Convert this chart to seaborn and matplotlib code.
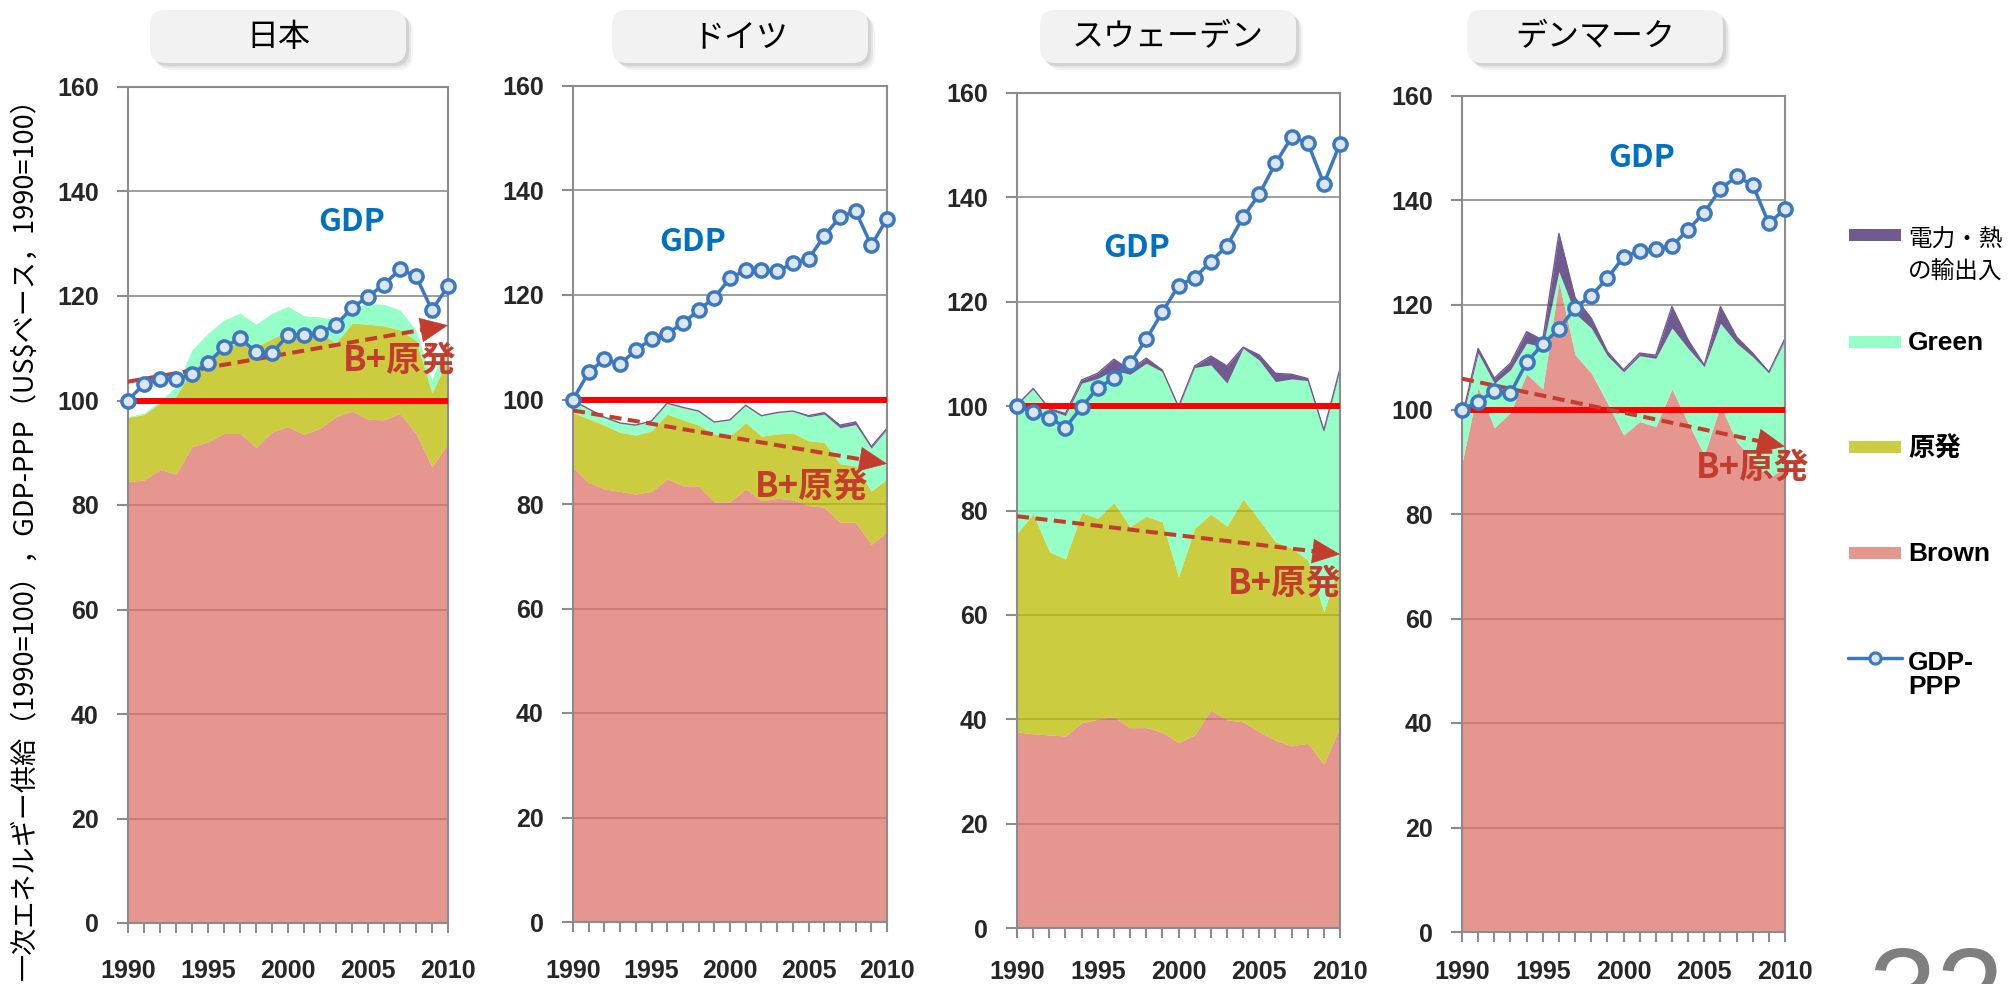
import seaborn as sns
import matplotlib.pyplot as plt
from matplotlib.patches import FancyBboxPatch, Rectangle
from matplotlib.lines import Line2D
from matplotlib.ticker import MultipleLocator

# years on the x axis
years = list(range(1990, 2011))
countries = ["日本", "ドイツ", "スウェーデン", "デンマーク"]

# GDP-PPP index (1990=100)
jp_gdp = [100, 103.2, 104.1, 104.1, 105.0, 107.2, 110.2, 111.9, 109.3, 109.1, 112.5,
          112.5, 112.9, 114.5, 117.7, 119.9, 122.2, 125.1, 123.8, 117.3, 121.9]
de_gdp = [100, 105.2, 107.7, 106.7, 109.5, 111.5, 112.6, 114.6, 117.1, 119.5, 123.2,
          124.8, 124.8, 124.5, 126.1, 126.9, 131.3, 134.9, 136.1, 129.5, 134.6]
se_gdp = [100, 98.9, 97.8, 95.9, 99.8, 103.5, 105.3, 108.2, 112.8, 118.0, 123.1,
          124.6, 127.7, 130.7, 136.2, 140.6, 146.5, 151.5, 150.5, 142.6, 150.3]
dk_gdp = [100, 101.5, 103.5, 103.1, 109.0, 112.5, 115.4, 119.4, 121.8, 125.1, 129.2,
          130.4, 130.7, 131.3, 134.4, 137.7, 142.2, 144.6, 143.0, 135.6, 138.4]

# primary energy supply, cumulative stack tops: Brown, +原発, +Green, +電力・熱の輸出入
jp_brown = [84.5, 84.8, 86.8, 85.9, 91.2, 92.1, 93.7, 93.7, 91.0, 94.0, 95.0,
            93.5, 94.7, 96.9, 98.0, 96.4, 96.3, 97.5, 93.7, 87.3, 91.8]
jp_nuclear = [96.8, 97.3, 99.5, 100.8, 106.0, 108.0, 110.0, 111.3, 110.3, 111.8, 113.4,
              112.6, 112.9, 111.0, 114.8, 114.6, 114.3, 113.5, 111.5, 101.5, 108.0]
jp_green = [96.9, 97.6, 99.9, 102.6, 109.7, 112.9, 115.4, 116.7, 114.6, 116.7, 118.0,
            116.2, 116.0, 115.4, 117.6, 118.5, 118.4, 117.3, 113.5, 103.9, 112.4]
jp_trade = [96.9, 97.6, 99.9, 102.6, 109.7, 112.9, 115.4, 116.7, 114.6, 116.7, 118.0,
            116.2, 116.0, 115.4, 117.6, 118.5, 118.4, 117.3, 113.5, 103.9, 112.4]

de_brown = [87.0, 84.1, 82.9, 82.4, 81.9, 82.4, 84.8, 83.5, 83.4, 80.4, 80.4,
            82.9, 80.6, 81.1, 80.8, 79.7, 79.4, 76.5, 76.5, 72.3, 74.6]
de_nuclear = [97.5, 96.3, 95.1, 93.7, 93.2, 94.0, 97.2, 96.1, 95.1, 93.4, 93.0,
              95.6, 93.0, 93.4, 93.6, 92.1, 91.8, 87.7, 87.3, 82.5, 84.8]
de_green = [99.8, 98.2, 96.6, 95.5, 95.1, 95.9, 99.3, 98.5, 97.8, 95.7, 96.1,
            98.9, 96.9, 97.5, 97.8, 96.7, 97.2, 94.6, 95.2, 90.7, 94.3]
de_trade = [99.8, 98.2, 96.6, 95.5, 95.1, 95.9, 99.3, 98.5, 97.8, 95.7, 96.1,
            98.9, 96.9, 97.5, 97.8, 96.9, 97.5, 95.1, 95.7, 91.0, 94.5]

se_brown = [37.6, 37.2, 37.0, 36.8, 39.3, 40.0, 40.5, 38.4, 38.4, 37.5, 35.5,
            37.0, 41.8, 39.9, 39.5, 37.6, 36.0, 34.9, 35.4, 31.4, 38.6]
se_nuclear = [75.6, 79.4, 72.1, 70.7, 79.6, 78.5, 81.5, 76.9, 78.9, 77.8, 67.3,
              76.6, 79.3, 77.0, 82.2, 78.2, 74.0, 72.8, 70.5, 60.6, 70.2]
se_green = [100.2, 103.3, 99.3, 98.2, 104.4, 105.3, 106.9, 106.1, 108.2, 106.6, 99.7,
            107.4, 107.9, 104.4, 111.1, 108.8, 104.7, 105.2, 104.9, 95.2, 107.0]
se_trade = [100.2, 103.4, 99.5, 98.6, 105.0, 106.3, 109.0, 106.9, 109.2, 106.9, 99.9,
            107.7, 109.6, 107.7, 111.3, 109.8, 106.3, 106.1, 105.3, 95.4, 107.2]

dk_brown = [89.7, 104.2, 96.5, 99.4, 106.8, 103.9, 124.3, 110.5, 107.0, 101.2, 95.1,
            97.7, 96.7, 103.9, 97.4, 91.3, 100.8, 93.9, 90.3, 86.8, 89.0]
dk_nuclear = [89.7, 104.2, 96.5, 99.4, 106.8, 103.9, 124.3, 110.5, 107.0, 101.2, 95.1,
              97.7, 96.7, 103.9, 97.4, 91.3, 100.8, 93.9, 90.3, 86.8, 89.0]
dk_green = [98.0, 110.8, 105.0, 107.6, 112.7, 112.0, 126.4, 118.4, 115.6, 110.3, 107.2,
            110.3, 109.8, 115.6, 111.7, 108.2, 116.5, 112.7, 110.1, 107.0, 113.3]
dk_trade = [98.5, 111.7, 106.0, 108.9, 114.9, 113.3, 133.7, 121.4, 117.5, 111.1, 107.6,
            110.8, 110.4, 119.7, 113.3, 108.5, 119.7, 113.9, 110.8, 107.2, 113.6]

# "B+原発" trend arrows: value at 1990 and at 2010
arrow_start = [103.6, 97.9, 78.9, 105.9]
arrow_end = [114.4, 87.7, 71.6, 92.9]
# label positions (year, value)
trend_label_pos = [(2007.0, 107.8), (2005.2, 83.4), (2006.6, 66.1), (2008.0, 89.0)]
gdp_label_pos = [(2004.0, 134.2), (1997.6, 130.1), (1997.4, 130.3), (2001.1, 148.1)]

# panel placement in pixels (left, right, top, bottom) on the 2012x984 canvas
W, H = 2012, 984
panel_px = [(128, 448, 87, 923), (573, 887, 86, 922), (1017, 1340, 93, 928), (1462, 1785, 96, 932)]
xlabel_pad = [19, 20, 16, 13]
title_cx = [278, 740, 1168, 1595]

data = [
    (jp_gdp, jp_brown, jp_nuclear, jp_green, jp_trade),
    (de_gdp, de_brown, de_nuclear, de_green, de_trade),
    (se_gdp, se_brown, se_nuclear, se_green, se_trade),
    (dk_gdp, dk_brown, dk_nuclear, dk_green, dk_trade),
]

# displayed colours
c_brown, c_nuc, c_green, c_trade = "#E4968F", "#CCCD40", "#96FFC8", "#715A8F"
# fill colours used with alpha 0.75 so the grid shows through like the original
f_brown, f_nuc, f_green, f_trade = "#DB736A", "#BBBC00", "#73FFB6", "#42236A"
c_gdp = "#3C78BE"
c_trend = "#C43C2E"
grid_c = "#8C8C8C"

sns.set_theme(style="white")
plt.rcParams["font.family"] = ["Liberation Sans", "Noto Sans CJK JP", "DejaVu Sans"]
plt.rcParams["font.weight"] = "bold"
jp_font = ["Noto Sans CJK JP", "DejaVu Sans"]

fig = plt.figure(figsize=(W / 100, H / 100), dpi=100)

for i, (gdp, brown, nuc, green, trade) in enumerate(data):
    l, r, t, b = panel_px[i]
    ax = fig.add_axes([l / W, 1 - b / H, (r - l) / W, (b - t) / H])
    ax.set_xlim(1990, 2010)
    ax.set_ylim(0, 160)

    ax.fill_between(years, 0, brown, color=f_brown, alpha=0.75, lw=0, zorder=1)
    ax.fill_between(years, brown, nuc, color=f_nuc, alpha=0.75, lw=0, zorder=1)
    ax.fill_between(years, nuc, green, color=f_green, alpha=0.75, lw=0, zorder=1)
    ax.fill_between(years, green, trade, color=f_trade, alpha=0.75, lw=0, zorder=1)
    if i > 0:
        ax.plot(years, trade, color=c_trade, lw=1.0, zorder=1.5)

    ax.axhline(100, color="#FF0000", lw=4.3, zorder=4)

    # trend arrow
    y0, y1 = arrow_start[i], arrow_end[i]
    xb = 2008.4
    yb = y0 + (y1 - y0) * (xb - 1990) / 20
    ax.plot([1990, xb], [y0, yb], color=c_trend, lw=2.9, ls=(0, (3, 1.6)), zorder=4.5)
    ax.annotate("", xy=(2010, y1), xytext=(xb, yb),
                arrowprops=dict(arrowstyle="-|>,head_length=1.9,head_width=0.85",
                                mutation_scale=10, color=c_trend, lw=0.5,
                                shrinkA=0, shrinkB=0),
                annotation_clip=False, zorder=4.5)
    tx, ty = trend_label_pos[i]
    ax.text(tx, ty, "B+原発", color=c_trend, fontsize=25, fontweight="bold",
            family=jp_font, ha="center", va="center", zorder=6)

    sns.lineplot(x=years, y=gdp, ax=ax, color=c_gdp, lw=2.5, marker="o", ms=9.5,
                 markerfacecolor="#DCE6F2", markeredgecolor=c_gdp, markeredgewidth=2.5,
                 zorder=5, clip_on=False)
    gx, gy = gdp_label_pos[i]
    ax.text(gx, gy, "GDP", color="#0070C0", fontsize=23, fontweight="bold",
            family=jp_font, ha="center", va="center")

    ax.set_yticks(range(0, 161, 20))
    ax.set_xticks([1990, 1995, 2000, 2005, 2010])
    ax.xaxis.set_minor_locator(MultipleLocator(1))
    ax.yaxis.grid(True, color=grid_c, lw=1.2)
    ax.set_axisbelow(True)
    ax.tick_params(axis="y", left=True, length=8, width=1.5, color=grid_c, pad=13, labelsize=18)
    ax.tick_params(axis="x", which="both", bottom=True, length=7, width=1.5, color=grid_c,
                   direction="out")
    ax.tick_params(axis="x", which="major", pad=xlabel_pad[i], labelsize=18)
    for s in ax.spines.values():
        s.set_color(grid_c)
        s.set_linewidth(1.5)
        s.set_visible(True)
    ax.set_xlabel("")
    ax.set_ylabel("")

# overlay in pixel coordinates for titles, legend, page number
ov = fig.add_axes([0, 0, 1, 1], zorder=-1)
ov.set_xlim(0, W)
ov.set_ylim(H, 0)
ov.axis("off")

for cx, name in zip(title_cx, countries):
    for d, a in [(7, 0.08), (5, 0.12), (3, 0.18)]:
        ov.add_patch(FancyBboxPatch((cx - 128 + d, 10 + d), 256, 53,
                                    boxstyle="round,pad=0,rounding_size=15",
                                    fc="#7F7F7F", ec="none", alpha=a))
    ov.add_patch(FancyBboxPatch((cx - 128, 10), 256, 53,
                                boxstyle="round,pad=0,rounding_size=15",
                                fc="#F2F2F2", ec="none"))
    ov.text(cx, 37, name, fontsize=23, fontweight="normal", family=jp_font,
            ha="center", va="center", color="black")

fig.text(25 / W, 1 - 532 / H, "一次エネルギー供給（1990=100），GDP-PPP（US$ベース，1990=100）",
         rotation=90, fontsize=19.5, fontweight="normal", family=jp_font,
         ha="center", va="center", color="black")

# legend
legend_items = [("電力・熱\nの輸出入", c_trade, 235, 256, "normal", 17),
                ("Green", c_green, 342, 343, "bold", 19),
                ("原発", c_nuc, 447, 449, "bold", 19),
                ("Brown", c_brown, 553, 554, "bold", 19)]
for label, col, py, ty, wt, fs in legend_items:
    ov.add_patch(Rectangle((1849, py - 6), 52, 12, fc=col, ec="none"))
    ov.text(1908, ty, label, fontsize=fs, fontweight=wt, family=["Liberation Sans"] + jp_font,
            ha="left", va="center", linespacing=1.5, color="black")
ov.add_line(Line2D([1848, 1902], [658, 658], color=c_gdp, lw=2.5))
ov.add_line(Line2D([1875], [658], marker="o", ms=8, mfc="#DCE6F2", mec=c_gdp, mew=2.2))
ov.text(1908, 675, "GDP-\nPPP", fontsize=19, fontweight="bold", ha="left", va="center",
        linespacing=1.0, color="black")

ov.text(1868, 945, "32", fontsize=88, fontweight="normal", color="#7F7F7F",
        ha="left", va="top")

fig.savefig("out.png", dpi=100)
